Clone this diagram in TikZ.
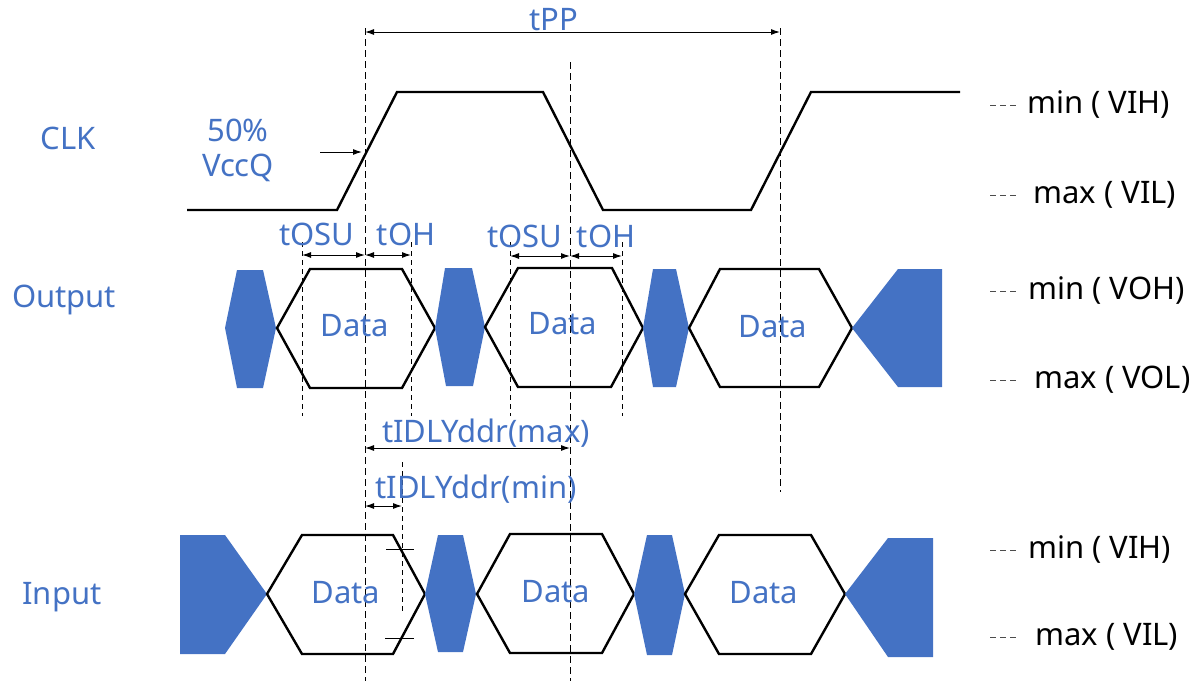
\documentclass[tikz,border=0pt]{standalone}
\usepackage{fontspec}
\setmainfont{Noto Sans}
\usetikzlibrary{arrows.meta}
\definecolor{blu}{HTML}{4472C4}
\begin{document}
\begin{tikzpicture}[x=1pt,y=-1pt,
  wave/.style={line width=2.4pt, line join=miter},
  blob/.style={fill=blu, draw=none},
  guide/.style={dash pattern=on 7pt off 4pt, line width=0.9pt},
  sguide/.style={dash pattern=on 5pt off 4pt, line width=0.8pt},
  dim/.style={line width=1pt, {Latex[length=9pt,width=6pt]}-{Latex[length=9pt,width=6pt]}},
  lbl/.style={text=blu, font=\fontsize{31}{35}\selectfont, inner sep=0},
  rlbl/.style={text=black, font=\fontsize{31}{35}\selectfont, inner sep=0, anchor=west},
  rdash/.style={dash pattern=on 6pt off 4pt, line width=0.9pt, draw=black!70},
]
\useasboundingbox (0,0) rectangle (1203,681);

% ---------- guide coordinates ----------
\coordinate (g1t) at (365,28);  \coordinate (g1b) at (365,681);
\coordinate (g2t) at (570,62);  \coordinate (g2b) at (570,681);
\coordinate (g3t) at (780,28);  \coordinate (g3b) at (780,492);
\coordinate (s1t) at (302,242); \coordinate (s1b) at (302,416);
\coordinate (s2t) at (411,242); \coordinate (s2b) at (411,416);
\coordinate (s3t) at (510,242); \coordinate (s3b) at (510,416);
\coordinate (s4t) at (622,242); \coordinate (s4b) at (622,416);
\coordinate (d5t) at (402,462); \coordinate (d5b) at (402,612);

\draw[guide] (g1t) -- (g1b);
\draw[guide] (g2t) -- (g2b);
\draw[guide] (g3t) -- (g3b);
\draw[sguide] (s1t) -- (s1b);
\draw[sguide] (s2t) -- (s2b);
\draw[sguide] (s3t) -- (s3b);
\draw[sguide] (s4t) -- (s4b);
\draw[sguide] (d5t) -- (d5b);

% ---------- CLK ----------
\draw[wave] (187,210) -- (337,210) -- (397,92) -- (543,92) -- (603,210)
  -- (751,210) -- (811,92) -- (960,92);

\node[lbl] (clk) at (68,138) {CLK};
\node[lbl] (p50) at (238,130) {50\%};
\node[lbl] (vccq) at (238,168) {VccQ};
\coordinate (ar0) at (320,152);
\coordinate (ar1) at (362,152);
\draw[line width=1pt, -{Latex[length=9pt,width=6pt]}] (ar0) -- (ar1);

% tPP
\node[lbl] (tpp) at (554,20) {tPP};
\coordinate (tppL) at (365,32);
\coordinate (tppR) at (780,32);
\draw[dim] (tppL) -- (tppR);

% ---------- Output ----------
\node[lbl] (out) at (64,300) {Output};
\fill[blob] (225,328) -- (237,270) -- (263,270) -- (276,328) -- (263,388) -- (237,388) -- cycle;
\draw[wave] (277,328) -- (310,269) -- (402,269) -- (435,328) -- (402,388) -- (310,388) -- cycle;
\fill[blob] (435,328) -- (445,268) -- (472,268) -- (485,327) -- (473,386) -- (446,386) -- cycle;
\draw[wave] (485,327) -- (518,268) -- (612,268) -- (643,328) -- (611,387) -- (518,387) -- cycle;
\fill[blob] (643,328) -- (653,269) -- (676,269) -- (689,328) -- (676,387) -- (653,387) -- cycle;
\draw[wave] (689,328) -- (720,269) -- (819,269) -- (852,328) -- (819,387) -- (720,387) -- cycle;
\fill[blob] (852,328) -- (898,269) -- (942,269) -- (942,387) -- (898,387) -- cycle;
\node[lbl] (od1) at (355,326) {Data};
\node[lbl] (od2) at (563,324) {Data};
\node[lbl] (od3) at (773,327) {Data};

\node[lbl] (tosu1) at (317,234) {tOSU};
\node[lbl] (toh1) at (406,234) {tOH};
\node[lbl] (tosu2) at (525,236) {tOSU};
\node[lbl] (toh2) at (606,236) {tOH};
\coordinate (a1) at (302,255); \coordinate (a2) at (365,255); \coordinate (a3) at (411,255);
\coordinate (b1) at (510,256); \coordinate (b2) at (570,256); \coordinate (b3) at (622,256);
\draw[dim] (a1) -- (a2);
\draw[dim] (a2) -- (a3);
\draw[dim] (b1) -- (b2);
\draw[dim] (b2) -- (b3);

% ---------- tIDLY ----------
\node[lbl] (tmax) at (486,433) {tIDLYddr(max)};
\node[lbl] (tmin) at (476,489) {tIDLYddr(min)};
\coordinate (m1) at (365,448); \coordinate (m2) at (570,448);
\coordinate (n1) at (365,506); \coordinate (n2) at (402,506);
\draw[dim] (m1) -- (m2);
\draw[dim] (n1) -- (n2);
\coordinate (k1a) at (386,549); \coordinate (k1b) at (414,549);
\coordinate (k2a) at (385,638); \coordinate (k2b) at (414,638);
\draw[line width=0.9pt] (k1a) -- (k1b);
\draw[line width=0.9pt] (k2a) -- (k2b);

% ---------- Input ----------
\node[lbl] (inp) at (62,597) {Input};
\fill[blob] (180,535) -- (225,535) -- (267,594) -- (225,654) -- (180,654) -- cycle;
\draw[wave] (267,594) -- (302,535) -- (393,535) -- (425,594) -- (393,654) -- (302,654) -- cycle;
\fill[blob] (425,594) -- (438,535) -- (463,535) -- (476,594) -- (463,652) -- (438,652) -- cycle;
\draw[wave] (477,594) -- (510,534) -- (602,534) -- (634,594) -- (602,653) -- (510,653) -- cycle;
\fill[blob] (634,594) -- (647,535) -- (672,535) -- (685,594) -- (672,655) -- (647,655) -- cycle;
\draw[wave] (685,594) -- (719,535) -- (811,535) -- (845,594) -- (811,654) -- (719,654) -- cycle;
\fill[blob] (845,594) -- (888,538) -- (933,538) -- (933,657) -- (888,657) -- cycle;
\node[lbl] (id1) at (346,593) {Data};
\node[lbl] (id2) at (556,592) {Data};
\node[lbl] (id3) at (764,593) {Data};

% ---------- right-hand levels ----------
\foreach \nm/\yy/\xx/\tx in {r1/105/1027/{min ( VIH)}, r2/195/1033/{max ( VIL)},
    r3/291/1028/{min ( VOH)}, r4/380/1034/{max ( VOL)},
    r5/550/1028/{min ( VIH)}, r6/637/1035/{max ( VIL)}}{
  \node[rlbl] (\nm) at (\xx,\yy) {\tx};
  \coordinate (\nm d0) at (990,\yy);
  \coordinate (\nm d1) at (1018,\yy);
  \draw[rdash] (\nm d0) -- (\nm d1);
}
\end{tikzpicture}
\end{document}
